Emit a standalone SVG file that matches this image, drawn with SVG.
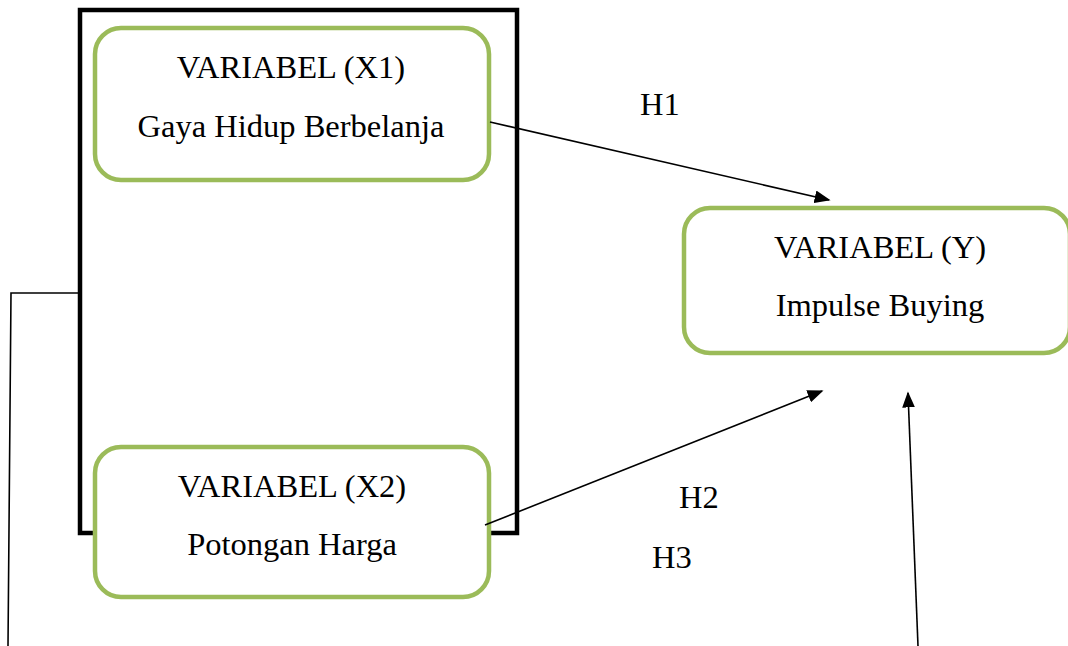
<svg xmlns="http://www.w3.org/2000/svg" width="1068" height="646" viewBox="0 0 1068 646">
<style>
.node{fill:#fff;stroke:#9BBB59;stroke-width:4.5}
.t{font-family:"Liberation Serif","Times New Roman",serif;font-size:32.5px;fill:#000}
.c{text-anchor:middle}
.ln{fill:none;stroke:#000;stroke-width:1.6}
</style>
<defs>
<marker id="ah" markerWidth="10" markerHeight="8" refX="9" refY="4" orient="auto" markerUnits="strokeWidth" viewBox="0 0 10 8">
<path d="M0,0 L10,4 L0,8 Z" fill="#000"/>
</marker>
</defs>
<rect width="1068" height="646" fill="#fff"/>
<g id="frame">
<rect x="80" y="10" width="437" height="523" fill="none" stroke="#000" stroke-width="4.5"/>
</g>
<g id="x1">
<rect class="node" x="95" y="28" width="394" height="152" rx="26"/>
<text class="t c" x="291" y="78">VARIABEL (X1)</text>
<text class="t c" x="291" y="137">Gaya Hidup Berbelanja</text>
</g>
<g id="x2">
<rect class="node" x="95" y="447" width="394" height="150" rx="26"/>
<text class="t c" x="292" y="497">VARIABEL (X2)</text>
<text class="t c" x="292" y="555">Potongan Harga</text>
</g>
<g id="y">
<rect class="node" x="684" y="208" width="386" height="145" rx="26"/>
<text class="t c" x="880" y="258">VARIABEL (Y)</text>
<text class="t c" x="880" y="316">Impulse Buying</text>
</g>
<g id="connectors">
<line class="ln" x1="490" y1="122" x2="829" y2="200" marker-end="url(#ah)"/>
<line class="ln" x1="485" y1="525" x2="822" y2="391" marker-end="url(#ah)"/>
<line class="ln" x1="918" y1="646" x2="908" y2="393" marker-end="url(#ah)"/>
<polyline class="ln" points="78,293 11,293 8,646"/>
</g>
<g id="labels">
<text class="t" x="640" y="115">H1</text>
<text class="t" x="679" y="508">H2</text>
<text class="t" x="652" y="568">H3</text>
</g>
</svg>
